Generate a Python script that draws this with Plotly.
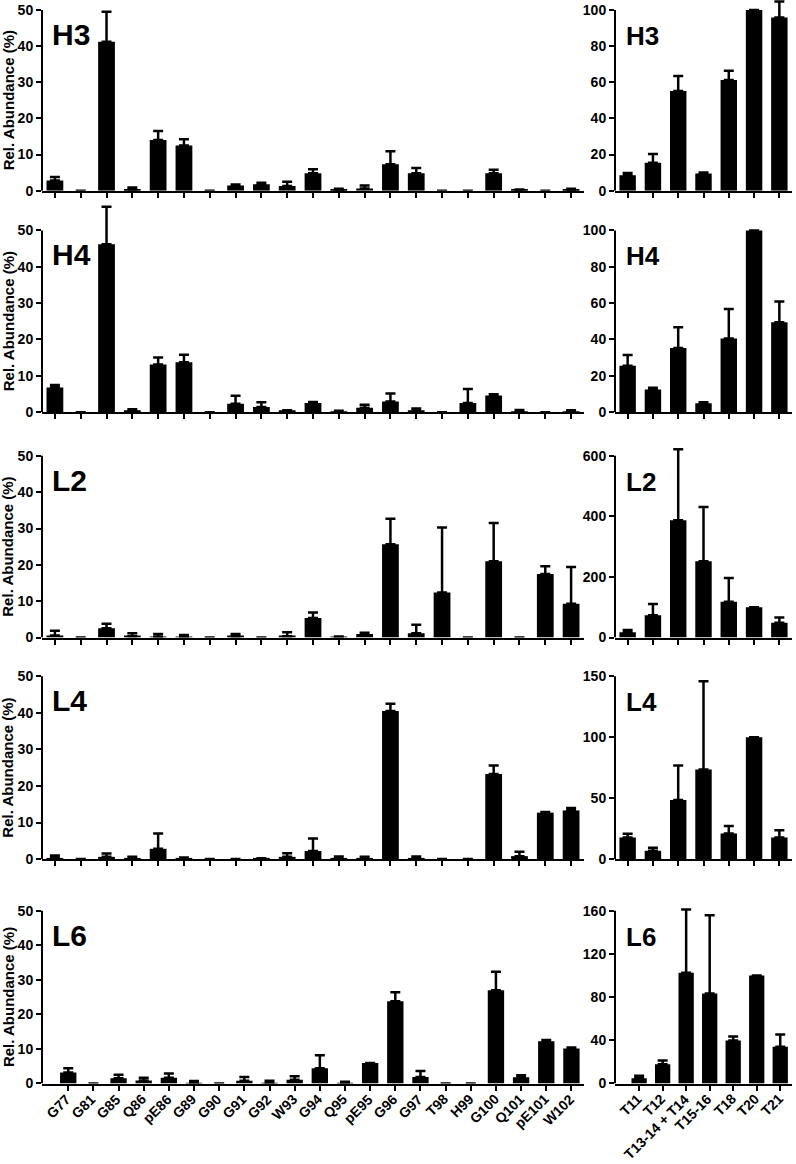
import plotly.graph_objects as go
from plotly.subplots import make_subplots

residues = ["G77", "G81", "G85", "Q86", "pE86", "G89", "G90", "G91", "G92", "W93", "G94",
            "Q95", "pE95", "G96", "G97", "T98", "H99", "G100", "Q101", "pE101", "W102"]
peptides = ["T11", "T12", "T13-14 + T14", "T15-16", "T18", "T20", "T21"]
panels = ["H3", "H4", "L2", "L4", "L6"]

# site-level relative abundance (%) and upper SD, one pair per chain
h3_site = [2.8, 0, 41.2, 0.3, 14.0, 12.5, 0, 1.4, 1.8, 1.3, 4.8, 0.2, 0.6, 7.3, 4.8, 0, 0, 4.8, 0.2, 0, 0.2]
h3_site_sd = [1.0, 0, 8.3, 0.6, 2.5, 1.7, 0, 0.3, 0.4, 1.2, 1.1, 0.3, 0.8, 3.6, 1.5, 0, 0, 1.0, 0.1, 0, 0.3]
h4_site = [6.8, 0, 46.2, 0.3, 13.1, 13.7, 0, 2.3, 1.4, 0.3, 2.5, 0.1, 1.2, 2.9, 0.5, 0, 2.5, 4.6, 0.1, 0, 0.2]
h4_site_sd = [0.7, 0, 10.3, 0.5, 1.9, 2.1, 0, 2.2, 1.3, 0.2, 0.3, 0.3, 0.8, 2.2, 0.5, 0, 3.9, 0.3, 0.5, 0, 0.3]
l2_site = [0.6, 0, 2.6, 0.4, 0.2, 0.1, 0, 0.3, 0, 0.4, 5.4, 0.2, 1.0, 25.7, 1.2, 12.4, 0, 21.0, 0, 17.5, 9.3]
l2_site_sd = [1.3, 0, 1.2, 0.8, 0.8, 0.6, 0, 0.7, 0, 1.1, 1.5, 0.1, 0.3, 7.0, 2.3, 17.9, 0, 10.5, 0, 2.1, 10.1]
l4_site = [0.3, 0, 0.6, 0.3, 2.8, 0.1, 0, 0, 0.1, 0.6, 2.2, 0.1, 0.2, 40.5, 0.1, 0, 0, 23.3, 0.8, 12.7, 13.3]
l4_site_sd = [0.7, 0, 0.9, 0.3, 4.2, 0.3, 0, 0, 0.1, 1.0, 3.4, 0.6, 0.4, 2.0, 0.6, 0, 0, 2.3, 1.2, 0.2, 0.7]
l6_site = [3.2, 0, 1.5, 0.9, 1.7, 0.1, 0, 0.8, 0.2, 1.1, 4.4, 0.2, 5.9, 23.8, 1.9, 0, 0, 27.0, 1.8, 12.2, 10.1]
l6_site_sd = [1.2, 0, 1.0, 0.8, 1.2, 0.6, 0, 1.1, 0.6, 1.0, 3.8, 0.3, 0, 2.6, 1.7, 0, 0, 5.3, 0.6, 0.4, 0.3]

# peptide-level abundance relative to T20 (= 100)
h3_pep = [8.6, 15.5, 55.2, 9.5, 61.2, 100, 95.8]
h3_pep_sd = [1.2, 4.8, 8.2, 0.5, 5.2, 0, 8.8]
h4_pep = [25.5, 12.5, 35.3, 4.9, 40.5, 100, 49.5]
h4_pep_sd = [6.0, 0.9, 11.4, 0.6, 16.2, 0, 11.4]
l2_pep = [17.5, 74, 387, 252, 118, 100, 49]
l2_pep_sd = [7.5, 37, 235, 179, 79, 0, 17.5]
l4_pep = [17.7, 6.8, 48.5, 73.6, 21, 100, 17.7]
l4_pep_sd = [3.0, 2.5, 28.3, 72.4, 6.2, 0, 6.0]
l6_pep = [4.9, 17.9, 102.5, 83.4, 39.8, 100, 34]
l6_pep_sd = [2.2, 3.4, 58.5, 72.3, 3.7, 0, 11.4]

site_data = [(h3_site, h3_site_sd), (h4_site, h4_site_sd), (l2_site, l2_site_sd),
             (l4_site, l4_site_sd), (l6_site, l6_site_sd)]
pep_data = [(h3_pep, h3_pep_sd), (h4_pep, h4_pep_sd), (l2_pep, l2_pep_sd),
            (l4_pep, l4_pep_sd), (l6_pep, l6_pep_sd)]
pep_ranges = [(100, 20), (100, 20), (600, 200), (150, 50), (160, 40)]

W, H = 796, 1164
# pixel rows (top, bottom) of each plot area
row_px = [(10, 192), (232, 415), (459, 642), (681, 865), (917, 1091)]
left_x = (42 / W, 584 / W)
right_x = (615 / W, 792 / W)
HEADROOM = 1.15  # extra room above the top tick so long error bars are not clipped

FONT = "Liberation Sans, Arial, sans-serif"
BLACK = "black"

fig = make_subplots(rows=5, cols=2)

for i in range(5):
    r = i + 1
    for col, cats, (vals, sd) in ((1, residues, site_data[i]), (2, peptides, pep_data[i])):
        fig.add_bar(x=cats, y=vals, row=r, col=col, marker_color=BLACK, width=0.65,
                    marker_line_width=0,
                    error_y=dict(type="data", symmetric=False, array=sd,
                                 arrayminus=[0] * len(sd), color=BLACK, thickness=2.5, width=5))

axis_common = dict(linecolor=BLACK, linewidth=2, ticks="outside", ticklen=5, tickwidth=2,
                   tickcolor=BLACK, showgrid=False, zeroline=False,
                   tickfont=dict(family=FONT, size=14, color=BLACK, weight="bold"))

for i in range(5):
    r = i + 1
    top, bot = row_px[i]
    h = bot - top
    ext = min(HEADROOM * h, bot)
    dom_top = 1 - top / H
    dom = [1 - bot / H, 1 - (bot - ext) / H]
    for col, xd in ((1, left_x), (2, right_x)):
        fig.update_xaxes(domain=xd, row=r, col=col, showline=True, showticklabels=False,
                         **axis_common)
    ymax_pep, step_pep = pep_ranges[i]
    for col, ymax, step in ((1, 50, 10), (2, ymax_pep, step_pep)):
        fig.update_yaxes(domain=dom, row=r, col=col, range=[0, ymax * ext / h], dtick=step,
                         showline=False, **axis_common)
        # y axis line only up to the last tick, as in the reference
        k = 2 * i + col
        yname = "y" if k == 1 else f"y{k}"
        xname = "x" if k == 1 else f"x{k}"
        fig.add_shape(type="line", xref=f"{xname} domain", yref=yname, x0=0, x1=0,
                      y0=0, y1=ymax, line=dict(color=BLACK, width=2))

    # panel labels and y title
    fig.add_annotation(text=panels[i], xref="paper", yref="paper", x=50 / W, y=dom_top,
                       xanchor="left", yanchor="top", yshift=-6, showarrow=False,
                       font=dict(family=FONT, size=30, color=BLACK, weight="bold"))
    fig.add_annotation(text=panels[i], xref="paper", yref="paper", x=624 / W, y=dom_top,
                       xanchor="left", yanchor="top", yshift=-9, showarrow=False,
                       font=dict(family=FONT, size=26, color=BLACK, weight="bold"))
    fig.add_annotation(text="Rel. Abundance (%)", xref="paper", yref="paper",
                       x=8 / W, y=1 - (top + bot) / 2 / H, xanchor="center", yanchor="middle",
                       textangle=-90, showarrow=False,
                       font=dict(family=FONT, size=15, color=BLACK, weight="bold"))

# bottom-row category labels, diagonal, ending at their tick
base_y = 1 - row_px[4][1] / H
for xname, cats in (("x9", residues), ("x10", peptides)):
    for j, c in enumerate(cats):
        fig.add_annotation(text=c, xref=xname, yref="paper", x=j, y=base_y,
                           xanchor="right", yanchor="top", xshift=7, yshift=-6,
                           textangle=-45, showarrow=False, borderpad=0,
                           font=dict(family=FONT, size=14, color=BLACK, weight="bold"))

fig.update_layout(width=W, height=H, margin=dict(l=0, r=0, t=0, b=0),
                  plot_bgcolor="rgba(0,0,0,0)", paper_bgcolor="white", showlegend=False,
                  font=dict(family=FONT, color=BLACK))

# the page's default body margin would push the 796x1164 figure off the window
fig.write_html("out.html", config={"displayModeBar": False},
               post_script="document.body.style.margin='0';")
